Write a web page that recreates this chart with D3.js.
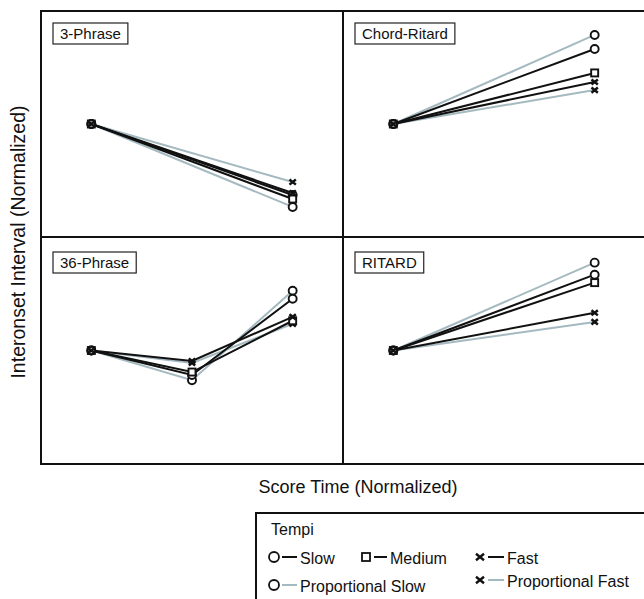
<!DOCTYPE html>
<html>
<head>
<meta charset="utf-8">
<script src="https://cdn.jsdelivr.net/npm/d3@7"></script>
<style>
  html, body { margin: 0; padding: 0; background: #fff; }
  svg { display: block; font-family: "Liberation Sans", Arial, Helvetica, sans-serif; }
</style>
</head>
<body>
<svg id="chart" width="644" height="599"></svg>
<script>
// ---------- data ----------
const seriesNames = ["Slow", "Medium", "Fast", "Proportional Slow", "Proportional Fast"];
const panelNames = ["3-Phrase", "Chord-Ritard", "36-Phrase", "RITARD"];
const scoreTime2 = [0, 1];
const scoreTime3 = [0, 0.5, 1];
// rows follow seriesNames order
const threePhrase  = [[1, 0.686], [1, 0.668], [1, 0.695], [1, 0.633], [1, 0.743]];
const chordRitard  = [[1, 1.332], [1, 1.226], [1, 1.186], [1, 1.394], [1, 1.150]];
const thirtySix    = [[1, 0.892, 1.228], [1, 0.905, 1.131], [1, 0.954, 1.148], [1, 0.869, 1.263], [1, 0.945, 1.117]];
const ritard       = [[1, 1.334], [1, 1.299], [1, 1.166], [1, 1.387], [1, 1.126]];
const legendTitle = "Tempi";

// ---------- styles ----------
const BLACK = "#111";
const GRAY = "#a5b9c1";
const shapeOf = {"Slow": "circle", "Medium": "square", "Fast": "cross", "Proportional Slow": "circle", "Proportional Fast": "cross"};
const colorOf = {"Slow": BLACK, "Medium": BLACK, "Fast": BLACK, "Proportional Slow": GRAY, "Proportional Fast": GRAY};

const svg = d3.select("#chart");

// frame geometry
const fL = 41, fT = 11, fMidX = 343, fMidY = 237, fR = 645, fB = 464;
const cells = [
  {name: panelNames[0], x0: fL, x1: fMidX, y0: fT, y1: fMidY, times: scoreTime2, vals: threePhrase},
  {name: panelNames[1], x0: fMidX, x1: fR, y0: fT, y1: fMidY, times: scoreTime2, vals: chordRitard},
  {name: panelNames[2], x0: fL, x1: fMidX, y0: fMidY, y1: fB, times: scoreTime3, vals: thirtySix},
  {name: panelNames[3], x0: fMidX, x1: fR, y0: fMidY, y1: fB, times: scoreTime2, vals: ritard}
];

function drawMarker(g, shape, x, y, s) {
  if (shape === "circle") {
    g.append("circle").attr("cx", x).attr("cy", y).attr("r", s.r)
      .attr("fill", "#fff").attr("stroke", BLACK).attr("stroke-width", s.sw);
  } else if (shape === "square") {
    g.append("rect").attr("x", x - s.sq / 2).attr("y", y - s.sq / 2)
      .attr("width", s.sq).attr("height", s.sq)
      .attr("fill", "#fff").attr("stroke", BLACK).attr("stroke-width", s.sw);
  } else {
    const h = s.x;
    g.append("path")
      .attr("d", `M${x - h},${y - h * 0.8}L${x + h},${y + h * 0.8}M${x - h},${y + h * 0.8}L${x + h},${y - h * 0.8}`)
      .attr("stroke", BLACK).attr("stroke-width", s.sw + 0.6).attr("fill", "none");
  }
}

cells.forEach(c => {
  const xs = d3.scaleLinear().domain([-0.25, 1.25]).range([c.x0, c.x1]);
  const ys = d3.scaleLinear().domain([0.5, 1.5]).range([c.y1, c.y0]);
  const g = svg.append("g");
  const line = d3.line().x(d => xs(d[0])).y(d => ys(d[1]));
  const order = [3, 4, 0, 1, 2];
  order.forEach(i => {
    const name = seriesNames[i];
    const pts = c.times.map((t, k) => [t, c.vals[i][k]]);
    g.append("path").attr("d", line(pts)).attr("fill", "none")
      .attr("stroke", colorOf[name]).attr("stroke-width", 2);
  });
  order.forEach(i => {
    const name = seriesNames[i];
    c.times.forEach((t, k) => {
      drawMarker(g, shapeOf[name], xs(t), ys(c.vals[i][k]), {r: 4, sq: 7, x: 3.2, sw: 1.9});
    });
  });
  // label box
  const lx = c.x0 + 12, ly = c.y0 + (c.y0 === fT ? 12 : 15);
  const t = g.append("text").attr("x", lx + 7).attr("y", ly + 10.5)
    .attr("dominant-baseline", "central").attr("font-size", 15).attr("fill", "#111").text(c.name);
  const w = t.node().getComputedTextLength();
  g.insert("rect", "text").attr("x", lx).attr("y", ly).attr("width", w + 14).attr("height", 21)
    .attr("fill", "#fff").attr("stroke", "#222").attr("stroke-width", 1.2);
});

// frame
svg.append("rect").attr("x", fL).attr("y", fT).attr("width", fR - fL).attr("height", fB - fT)
  .attr("fill", "none").attr("stroke", "#111").attr("stroke-width", 2);
svg.append("line").attr("x1", fMidX).attr("x2", fMidX).attr("y1", fT).attr("y2", fB)
  .attr("stroke", "#111").attr("stroke-width", 2);
svg.append("line").attr("x1", fL).attr("x2", fR).attr("y1", fMidY).attr("y2", fMidY)
  .attr("stroke", "#111").attr("stroke-width", 2);

// axis titles
svg.append("text").attr("transform", "translate(18,242) rotate(-90)")
  .attr("text-anchor", "middle").attr("dominant-baseline", "central")
  .attr("font-size", 19.5).attr("fill", "#111").text("Interonset Interval (Normalized)");
svg.append("text").attr("x", 358).attr("y", 487)
  .attr("text-anchor", "middle").attr("dominant-baseline", "central")
  .attr("font-size", 18).attr("fill", "#111").text("Score Time (Normalized)");

// legend
const lg = svg.append("g");
lg.append("rect").attr("x", 256).attr("y", 513).attr("width", 400).attr("height", 100)
  .attr("fill", "#fff").attr("stroke", "#111").attr("stroke-width", 2);
lg.append("text").attr("x", 271).attr("y", 529).attr("dominant-baseline", "central")
  .attr("font-size", 16).attr("fill", "#111").text(legendTitle);
const legPos = {
  "Slow": [274, 557, 300],
  "Medium": [366, 557, 390],
  "Fast": [480, 557, 507],
  "Proportional Slow": [274, 585, 300],
  "Proportional Fast": [480, 580, 507]
};
seriesNames.forEach(name => {
  const [mx, my, tx] = legPos[name];
  lg.append("line").attr("x1", mx + 8).attr("x2", tx - 3).attr("y1", my).attr("y2", my)
    .attr("stroke", colorOf[name]).attr("stroke-width", 2);
  drawMarker(lg, shapeOf[name], mx, my, {r: 5, sq: 8, x: 4, sw: 1.8});
  lg.append("text").attr("x", tx).attr("y", my + 1).attr("dominant-baseline", "central")
    .attr("font-size", 16).attr("fill", "#111").text(name);
});
</script>
</body>
</html>
